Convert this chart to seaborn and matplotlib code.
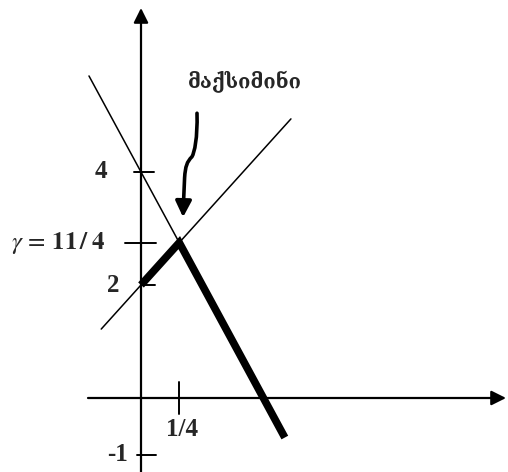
import matplotlib

matplotlib.use("Agg")
import matplotlib.pyplot as plt
import pandas as pd
import seaborn as sns
from matplotlib.patches import FancyArrowPatch
from matplotlib.path import Path

# two lines of the game: y = 2 + 3x (rising) and y = 4 - 5x (falling)
rise_x = [-0.26, 0.98]
rise_y = [1.22, 4.94]
fall_x = [-0.34, 0.25]
fall_y = [5.70, 2.75]
# lower envelope drawn bold
env_x = [0.0, 0.25, 0.94]
env_y = [2.0, 2.75, -0.70]

y_ticks = [4, 2.75, 2, -1]
y_tick_labels = ["4", r"$\gamma\,=\,\mathbf{11\,/\;4}$", "2", "-1"]
x_ticks = [0.25]
x_tick_labels = ["1/4"]
note_text = "მაქსიმინი"

# pixel scale of the drawing (px per data unit)
SX, SY = 153.0, 56.5
W, H = 508, 472
X0, Y0 = 141, 398  # origin in pixels

sns.set_style("white")
plt.rcParams["font.family"] = ["Liberation Serif", "DejaVu Serif"]
plt.rcParams["mathtext.fontset"] = "stix"

fig = plt.figure(figsize=(W / 100, H / 100), dpi=100)
ax = fig.add_axes([0, 0, 1, 1])
ax.set_xlim(-X0 / SX, (W - X0) / SX)
ax.set_ylim(-(H - Y0) / SY, Y0 / SY)
ax.axis("off")

lines = pd.concat(
    [
        pd.DataFrame({"x": rise_x, "y": rise_y, "line": "rise"}),
        pd.DataFrame({"x": fall_x, "y": fall_y, "line": "fall"}),
    ],
    ignore_index=True,
)
sns.lineplot(data=lines, x="x", y="y", units="line", estimator=None,
             color="black", linewidth=1.1, sort=False, ax=ax)
env = pd.DataFrame({"x": env_x, "y": env_y})
sns.lineplot(data=env, x="x", y="y", estimator=None, color="black",
             linewidth=5.5, sort=False, ax=ax, solid_joinstyle="miter",
             solid_capstyle="butt")

# coordinate axes with arrow heads
x_lo, x_hi = ax.get_xlim()
y_lo, y_hi = ax.get_ylim()
ax.annotate("", xy=(x_hi - 2 / SX, 0), xytext=(-53 / SX, 0),
            arrowprops=dict(arrowstyle="-|>", color="black", lw=1.6,
                            mutation_scale=22, shrinkA=0, shrinkB=0))
ax.annotate("", xy=(0, y_hi - 8 / SY), xytext=(0, y_lo),
            arrowprops=dict(arrowstyle="-|>", color="black", lw=1.6,
                            mutation_scale=22, shrinkA=0, shrinkB=0))

# tick marks and labels
tick_left = {4: 7, 2.75: 16, 2: 0, -1: 4}
tick_right = {4: 13, 2.75: 15, 2: 14, -1: 15}
label_dx = {4: -34, 2.75: -36, 2: -22, -1: -13}
for val, lab in zip(y_ticks, y_tick_labels):
    ax.plot([-tick_left[val] / SX, tick_right[val] / SX], [val, val],
            color="black", lw=1.4)
    ax.text(label_dx[val] / SX, val, lab, ha="right", va="center",
            fontsize=18, fontweight="bold")
for val, lab in zip(x_ticks, x_tick_labels):
    ax.plot([val, val], [16 / SY, -16 / SY], color="black", lw=1.4)
    ax.text(val + 3 / SX, -31 / SY, lab, ha="center", va="center",
            fontsize=18, fontweight="bold")

# note with curved arrow pointing to the maximin point
ax.text(0.68, 5.6, note_text, ha="center", va="center", fontsize=14.5,
        fontweight="bold", family=["DejaVu Serif", "DejaVu Sans"])
verts = [(0.366, 5.04), (0.37, 4.6), (0.35, 4.35), (0.333, 4.27),
         (0.30, 4.18), (0.29, 4.1), (0.285, 3.9),
         (0.28, 3.6), (0.277, 3.4), (0.275, 3.2)]
codes = [Path.MOVETO] + [Path.CURVE4] * 9
arrow = FancyArrowPatch(path=Path(verts, codes), arrowstyle="-|>",
                        mutation_scale=24, color="black", lw=2.6)
ax.add_patch(arrow)

fig.savefig("out.png", dpi=100, facecolor="white")
